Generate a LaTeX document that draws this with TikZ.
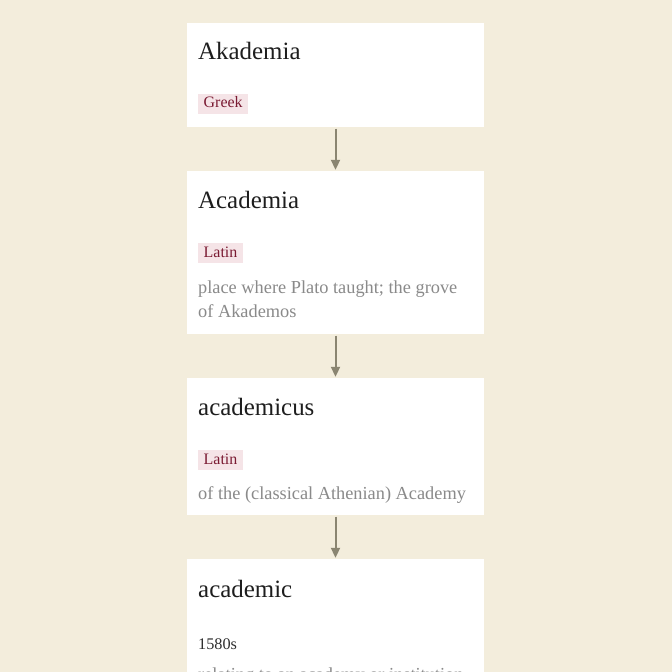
\documentclass[tikz,border=0pt]{standalone}
\usepackage{fontspec}
\setmainfont{Liberation Serif}
\usetikzlibrary{arrows.meta}
\definecolor{bgc}{HTML}{F3EDDC}
\definecolor{titlec}{HTML}{1E1E1E}
\definecolor{tagbg}{HTML}{F5E4E7}
\definecolor{tagfg}{HTML}{7A1A32}
\definecolor{glossc}{HTML}{8A8A8A}
\definecolor{datec}{HTML}{2E2E2E}
\definecolor{arrowc}{HTML}{8A8571}
\tikzset{
  card/.style={rectangle, fill=white, draw=none, inner sep=0pt, minimum width=297bp},
  ttl/.style={anchor=base west, inner sep=0pt, text=titlec, font=\fontsize{25}{30}\selectfont},
  tagbox/.style={anchor=west, fill=tagbg, text=tagfg, font=\fontsize{16}{19}\selectfont,
    inner xsep=5.5bp, inner ysep=0pt, minimum height=20bp, text height=11bp, text depth=3bp},
  gloss/.style={anchor=base west, inner sep=0pt, text=glossc, font=\fontsize{18.4}{22}\selectfont},
  datetxt/.style={anchor=base west, inner sep=0pt, text=datec, font=\fontsize{16.3}{20}\selectfont},
  flow/.style={-{Triangle[length=10bp,width=9bp]}, line width=2bp, draw=arrowc,
    shorten <=1.5bp, shorten >=1bp}
}
\begin{document}
\begin{tikzpicture}[x=1bp,y=-1bp]
\fill[bgc] (0,0) rectangle (672,672);
\useasboundingbox (0,0) rectangle (672,672);

% cards
\node[card, minimum height=104bp] (b1) at (335.5,75) {};
\node[card, minimum height=163bp] (b2) at (335.5,252.5) {};
\node[card, minimum height=137bp] (b3) at (335.5,446.5) {};
\node[card, minimum height=141bp] (b4) at (335.5,629.5) {};

% card 1
\node[ttl] (t1) at (198,60) {Akademia};
\node[tagbox] (g1) at (198,104) {Greek};

% card 2
\node[ttl] (t2) at (198,208) {Academia};
\node[tagbox] (g2) at (198,253) {Latin};
\node[gloss] (d2a) at (198,293) {place where Plato taught; the grove};
\node[gloss] (d2b) at (198,317.5) {of Akademos};

% card 3
\node[ttl] (t3) at (198,415) {academicus};
\node[tagbox] (g3) at (198,460) {Latin};
\node[gloss] (d3) at (198,499) {of the (classical Athenian) Academy};

% card 4
\node[ttl] (t4) at (198,597) {academic};
\node[datetxt] (y4) at (198,649) {1580s};
\node[gloss] (d4) at (198,680) {relating to an academy or institution};

% connectors
\draw[flow] (b1.south) -- (b2.north);
\draw[flow] (b2.south) -- (b3.north);
\draw[flow] (b3.south) -- (b4.north);
\end{tikzpicture}
\end{document}
